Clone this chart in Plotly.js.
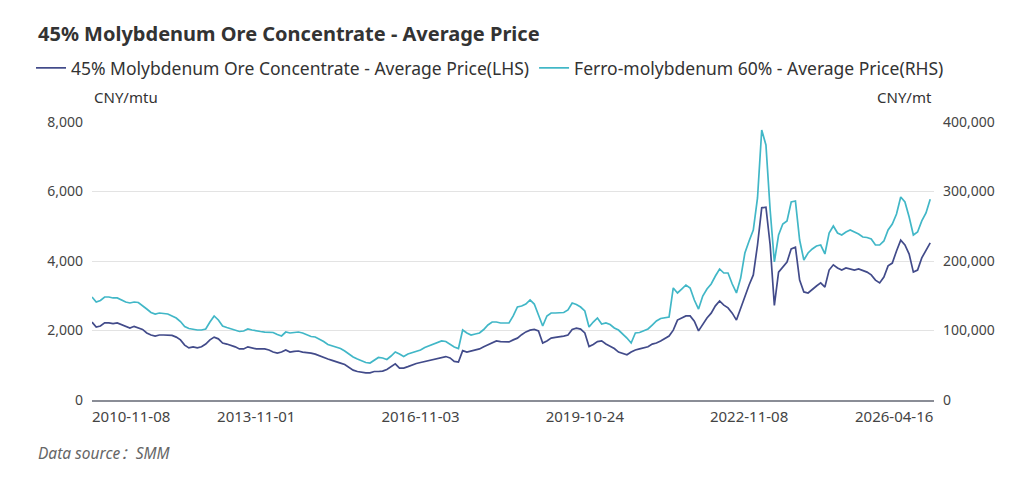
<!DOCTYPE html>
<html>
<head>
<meta charset="utf-8">
<script src="https://cdn.plot.ly/plotly-3.0.1.min.js"></script>
<style>
html,body{margin:0;padding:0;background:#fff;}
#chart{width:1024px;height:479px;}
</style>
</head>
<body>
<div id="chart"></div>
<script>
// Dates (category axis)
const dates = [
"2010-11-08","2010-12-06","2011-01-03","2011-01-31","2011-02-28","2011-03-28","2011-04-25","2011-05-23","2011-06-20","2011-07-18",
"2011-08-15","2011-09-12","2011-10-10","2011-11-07","2011-12-05","2012-01-02","2012-01-30","2012-02-27","2012-03-26","2012-04-23",
"2012-05-21","2012-06-18","2012-07-16","2012-08-13","2012-09-10","2012-10-08","2012-11-05","2012-12-03","2012-12-31","2013-01-28",
"2013-02-25","2013-03-25","2013-04-22","2013-05-20","2013-06-17","2013-07-15","2013-08-12","2013-09-09","2013-10-07","2013-11-01",
"2013-11-29","2013-12-27","2014-01-24","2014-02-21","2014-03-21","2014-04-18","2014-05-16","2014-06-13","2014-07-11","2014-08-08",
"2014-09-05","2014-10-03","2014-10-31","2014-11-28","2014-12-26","2015-01-23","2015-02-20","2015-03-20","2015-04-17","2015-05-15",
"2015-06-12","2015-07-10","2015-08-07","2015-09-04","2015-10-02","2015-10-30","2015-11-27","2015-12-25","2016-01-22","2016-02-19",
"2016-03-18","2016-04-15","2016-05-13","2016-06-10","2016-07-08","2016-08-05","2016-09-02","2016-09-30","2016-11-03","2016-12-01",
"2016-12-29","2017-01-26","2017-02-23","2017-03-23","2017-04-20","2017-05-18","2017-06-15","2017-07-13","2017-08-10","2017-09-07",
"2017-10-05","2017-11-02","2017-11-30","2017-12-28","2018-01-25","2018-02-22","2018-03-22","2018-04-19","2018-05-17","2018-06-14",
"2018-07-12","2018-08-09","2018-09-06","2018-10-04","2018-11-01","2018-11-29","2018-12-27","2019-01-24","2019-02-21","2019-03-21",
"2019-04-18","2019-05-16","2019-06-13","2019-07-11","2019-08-08","2019-09-05","2019-10-03","2019-10-24","2019-11-21","2019-12-19",
"2020-01-16","2020-02-13","2020-03-12","2020-04-09","2020-05-07","2020-06-04","2020-07-02","2020-07-30","2020-08-27","2020-09-24",
"2020-10-22","2020-11-19","2020-12-17","2021-01-14","2021-02-11","2021-03-11","2021-04-08","2021-05-06","2021-06-03","2021-07-01",
"2021-07-29","2021-08-26","2021-09-23","2021-10-21","2021-11-18","2021-12-16","2022-01-13","2022-02-10","2022-03-10","2022-04-07",
"2022-05-05","2022-06-02","2022-06-30","2022-07-28","2022-08-25","2022-09-22","2022-11-08","2022-12-06","2023-01-03","2023-01-31",
"2023-02-28","2023-03-28","2023-04-25","2023-05-23","2023-06-20","2023-07-18","2023-08-15","2023-09-12","2023-10-10","2023-11-07",
"2023-12-05","2024-01-02","2024-01-30","2024-02-27","2024-03-26","2024-04-23","2024-05-21","2024-06-18","2024-07-16","2024-08-13",
"2024-09-10","2024-10-08","2024-11-05","2024-12-03","2024-12-31","2025-01-28","2025-02-25","2025-03-25","2025-04-22","2025-05-20",
"2025-06-17","2025-07-15","2025-08-12","2025-09-09","2025-10-07","2025-11-04","2025-12-02","2026-01-06","2026-02-24","2026-04-16"
];

// 45% Molybdenum Ore Concentrate - Average Price (CNY/mtu, LHS)
const oreConcentrate = [
2240,2100,2130,2220,2220,2200,2220,2170,2100,2070,
2120,2070,2030,1930,1870,1840,1870,1870,1870,1860,
1810,1730,1580,1500,1530,1500,1530,1610,1730,1810,
1760,1640,1610,1580,1530,1470,1470,1530,1500,1470,
1470,1470,1440,1380,1350,1380,1440,1380,1400,1410,
1380,1370,1350,1320,1270,1210,1180,1140,1110,1060,
1020,950,860,820,790,780,780,820,820,830,
880,950,1040,920,920,960,1010,1050,1080,1110,
1120,1150,1180,1210,1250,1210,1110,1090,1420,1380,
1410,1440,1470,1530,1580,1630,1700,1680,1670,1670,
1730,1780,1880,1960,2010,2030,1990,1640,1700,1780,
1800,1810,1840,1870,2030,2070,2040,1930,1540,1600,
1680,1700,1610,1550,1480,1380,1350,1300,1380,1440,
1470,1500,1530,1610,1640,1700,1760,1840,2010,2300,
2360,2420,2420,2270,1990,2190,2360,2500,2710,2850,
2730,2650,2500,2300,2650,2940,3310,3600,4460,5530,
5550,4460,2720,3680,3830,3970,4350,4400,3450,3110,
3080,3190,3280,3370,3250,3740,3890,3800,3740,3800,
3760,3740,3770,3730,3680,3600,3450,3370,3540,3860,
3940,4290,4600,4460,4200,3680,3740,4090,4320,4520
];

// Ferro-molybdenum 60% - Average Price (CNY/mt, RHS)
const ferroMoly = [
148200,141000,143200,148200,148200,146800,146800,143900,141000,139600,
141000,140300,136000,130900,125900,123700,125200,124500,123700,120900,
118000,112900,105800,102900,101400,100700,100700,102200,112200,120900,
115100,106500,104300,102200,100700,98600,99300,102200,100700,99300,
98600,97800,97800,97100,94200,92100,97800,96400,97100,97800,
96400,93500,91400,90600,87800,84200,79900,77700,76300,74100,
70500,66200,61900,59000,56800,54000,53200,57600,61200,60400,
58300,63300,69100,66200,62600,66200,68300,70500,71900,75500,
77700,79900,82000,84900,84200,80600,76300,74100,100700,96400,
93500,95000,96400,101400,107900,112200,112200,110800,110800,110800,
120900,133800,135300,138100,143900,138100,122300,106500,120900,125200,
125200,125200,125900,129500,139600,137400,133800,128100,105000,112200,
118000,109400,110800,108600,103600,100700,95000,89200,82000,96400,
97100,99300,102200,107900,113700,117300,118000,119400,161200,154000,
159700,165500,161200,143900,130900,149600,159700,166900,178400,188500,
182700,182700,166900,154000,175500,211500,228800,244600,290700,388500,
366900,273400,198600,237400,253200,257600,284900,286300,230200,201400,
211500,217300,221600,223000,210100,240300,250400,240300,237400,241700,
244600,241700,238900,234500,233800,231700,223000,223000,228800,244600,
253200,267600,292000,284900,263300,237400,241700,257600,269100,289000
];

const lhsTicks = [0, 2000, 4000, 6000, 8000];
const rhsTicks = [0, 100000, 200000, 300000, 400000];
const xTickLabels = ["2013-11-01", "2016-11-03", "2019-10-24", "2022-11-08"];
const xEdgeLabels = ["2010-11-08", "2026-04-16"];

const FONT = "Noto Sans, Noto Sans CJK SC, sans-serif";
const navy = "#424b8a";
const teal = "#41b7c7";

const traces = [
  {
    x: dates, y: oreConcentrate, type: "scatter", mode: "lines",
    name: "45% Molybdenum Ore Concentrate - Average Price(LHS)",
    line: {color: navy, width: 1.7}, yaxis: "y"
  },
  {
    x: dates, y: ferroMoly, type: "scatter", mode: "lines",
    name: "Ferro-molybdenum 60% - Average Price(RHS)",
    line: {color: teal, width: 1.7}, yaxis: "y2"
  }
];

const layout = {
  width: 1024, height: 479,
  margin: {l: 92, r: 90, t: 122, b: 79, pad: 0},
  paper_bgcolor: "#ffffff", plot_bgcolor: "#ffffff",
  font: {family: FONT, color: "#333333", size: 13},
  title: {
    text: "<b>45% Molybdenum Ore Concentrate - Average Price</b>",
    x: 38/1024, xanchor: "left", xref: "container",
    y: 1 - 34/479, yanchor: "middle", yref: "container",
    font: {family: FONT, size: 20, color: "#333333"}
  },
  showlegend: true,
  legend: {
    orientation: "h", x: (31-92)/842, xanchor: "left",
    y: 1 + (122-68)/278, yanchor: "middle",
    font: {family: FONT, size: 17.5, color: "#333333"},
    bgcolor: "rgba(0,0,0,0)", traceorder: "normal"
  },
  xaxis: {
    type: "category", range: [0, 199.9], fixedrange: true,
    tickmode: "array", tickvals: xTickLabels, ticktext: xTickLabels,
    showgrid: false, zeroline: false, ticks: "",
    showline: true, linecolor: "#8a8d96", linewidth: 1.5,
    ticklabelstandoff: 2,
    tickfont: {family: FONT, size: 15, color: "#444444"}
  },
  yaxis: {
    range: [0, 8000], tickmode: "array", tickvals: lhsTicks, tickformat: ",d",
    showgrid: true, gridcolor: "#e3e3e3", gridwidth: 1, zeroline: false,
    showline: false, ticks: "", ticklabelstandoff: 8,
    tickfont: {family: FONT, size: 14, color: "#444444"}
  },
  yaxis2: {
    range: [0, 400000], overlaying: "y", side: "right",
    tickmode: "array", tickvals: rhsTicks, tickformat: ",d",
    showgrid: false, zeroline: false, showline: false, ticks: "", ticklabelstandoff: 8,
    tickfont: {family: FONT, size: 14, color: "#444444"}
  },
  annotations: [
    {text: "CNY/mtu", xref: "paper", yref: "paper", x: 0, xanchor: "left",
     y: 1 + (122-97)/278, yanchor: "middle", showarrow: false,
     font: {family: FONT, size: 15, color: "#333333"}},
    {text: "CNY/mt", xref: "paper", yref: "paper", x: 1, xanchor: "right",
     y: 1 + (122-97)/278, yanchor: "middle", showarrow: false,
     font: {family: FONT, size: 15, color: "#333333"}},
    {text: xEdgeLabels[0], xref: "x", yref: "paper", x: dates.indexOf(xEdgeLabels[0]), xanchor: "left", xshift: -2,
     y: 0, yanchor: "top", yshift: -4, showarrow: false,
     font: {family: FONT, size: 15, color: "#444444"}},
    {text: xEdgeLabels[1], xref: "x", yref: "paper", x: dates.indexOf(xEdgeLabels[1]), xanchor: "right", xshift: 5,
     y: 0, yanchor: "top", yshift: -4, showarrow: false,
     font: {family: FONT, size: 15, color: "#444444"}},
    {text: "Data source：SMM", xref: "paper", yref: "paper", x: (36-92)/842, xanchor: "left",
     y: (400-453)/278, yanchor: "middle", showarrow: false,
     font: {family: FONT, size: 15.5, color: "#666666", style: "italic"}}
  ]
};

Plotly.newPlot("chart", traces, layout, {displayModeBar: false, staticPlot: true});
</script>
</body>
</html>
